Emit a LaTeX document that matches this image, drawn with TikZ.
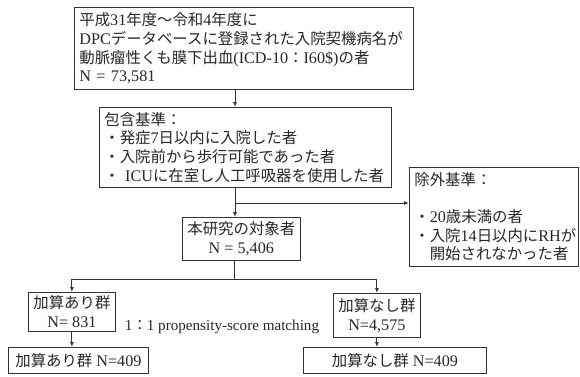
\documentclass[tikz,border=0pt]{standalone}
\usepackage{fontspec}
\setmainfont{Liberation Serif}[Scale=1.05]
\newfontfamily\cjk{Noto Sans CJK JP}
\newcommand{\J}[1]{{\cjk #1}}
\usetikzlibrary{arrows.meta}
\begin{document}
\begin{tikzpicture}[x=1pt,y=-1pt,
  box/.style={draw=black!80, line width=0.8pt, rectangle, inner xsep=5pt, inner ysep=1pt,
    font=\fontsize{15.4}{18.8}\selectfont, text=black!85},
  conn/.style={draw=black!80, line width=0.9pt},
  arr/.style={conn, -{Latex[length=5pt,width=4pt]}}]
\useasboundingbox (0,0) rectangle (580,376);
\node[box, anchor=north west, text width=329pt, minimum height=82pt, align=left] (b1) at (74,7)
  {\J{平成}31\J{年度～令和}4\J{年度に}\\
   DPC\J{データベースに登録された入院契機病名が}\\
   \J{動脈瘤性くも膜下出血}(ICD-10\J{：}I60\$)\J{の者}\\
   N = 73,581};
\node[box, anchor=north west, text width=282pt, minimum height=80pt, align=left] (b2) at (99,107)
  {\J{包含基準：}\\
   \J{・発症}7\J{日以内に入院した者}\\
   \J{・入院前から歩行可能であった者}\\
   \J{・} ICU\J{に在室し人工呼吸器を使用した者}};
\node[box, anchor=north west, text width=159pt, minimum height=99pt, align=left] (ex) at (409,167)
  {\J{除外基準：}\\[18pt]
   \J{・}20\J{歳未満の者}\\
   \J{・入院}14\J{日以内に}RH\J{が}\\
   \J{\hphantom{・}開始されなかった者}};
\node[box, anchor=north west, minimum width=116pt, minimum height=43pt, align=center] (b3) at (182,217)
  {\J{本研究の対象者}\\ N = 5,406};
\node[box, anchor=north west, minimum width=82pt, minimum height=39pt, align=center] (b4) at (28,292)
  {\J{加算あり群}\\ N= 831};
\node[box, anchor=north west, minimum width=83pt, minimum height=44pt, align=center] (b5) at (333,293)
  {\J{加算なし群}\\ N=4,575};
\node[box, anchor=north west, minimum width=140pt, minimum height=26pt] (b6) at (8,347)
  {\J{加算あり群} N=409};
\node[box, anchor=north west, minimum width=183pt, minimum height=26pt] (b7) at (303,347)
  {\J{加算なし群} N=409};
\node[font=\fontsize{14.4}{17}\selectfont, text=black!85] (pm) at (222,327)
  {1\J{：}1 propensity-score matching};
\coordinate (xa) at (235,98);
\coordinate (j1) at (235,203);
\coordinate (j2) at (234,279);
\draw[arr] (xa |- b1.south) -- (xa |- b2.north);
\draw[conn] (j1 |- b2.south) -- (j1);
\draw[arr] (j1) -- (j1 |- b3.north);
\draw[arr] (j1) -- (j1 -| ex.west);
\draw[conn] (j2 |- b3.south) -- (j2);
\draw[arr] (j2) -| (b4.north);
\draw[arr] (j2) -| (b5.north);
\draw[arr] (b4.south) -- (b4.south |- b6.north);
\draw[arr] (b5.south) -- (b5.south |- b7.north);
\end{tikzpicture}
\end{document}
